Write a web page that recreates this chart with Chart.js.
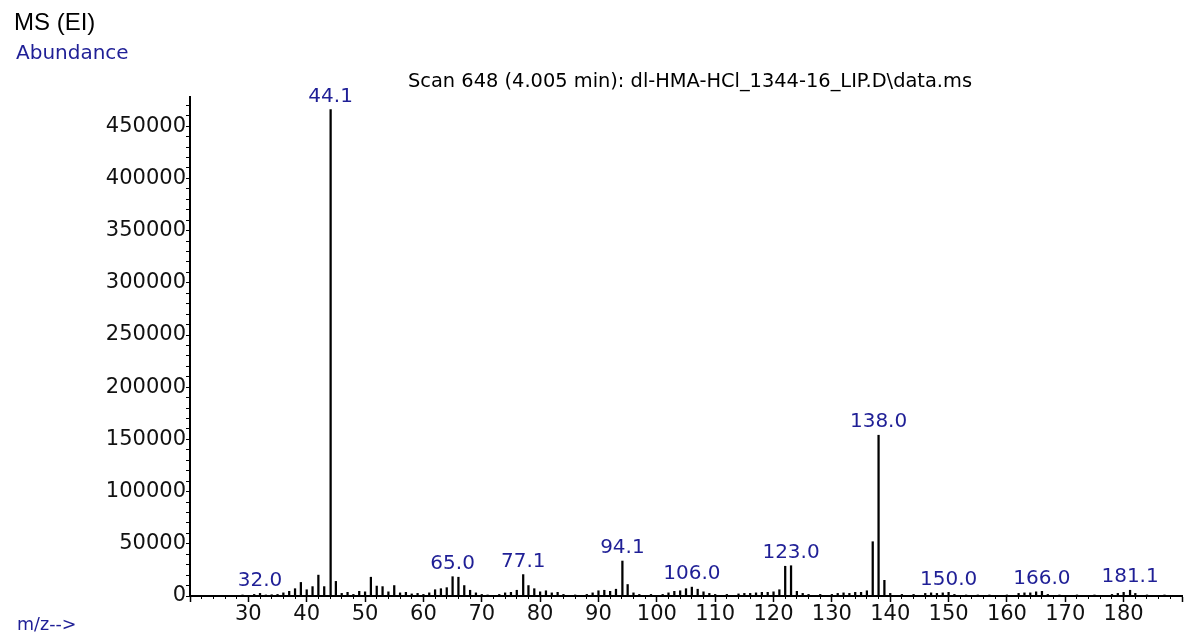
<!DOCTYPE html>
<html>
<head>
<meta charset="utf-8">
<script src="https://cdn.jsdelivr.net/npm/chart.js@4.4.1/dist/chart.umd.min.js"></script>
<style>
  body { margin: 0; background: #fff; }
  #wrap { width: 1184px; height: 635px; }
</style>
</head>
<body>
<div id="wrap"><canvas id="msChart" width="1184" height="635"></canvas></div>
<script>
// m/z values and abundances
const mzValues = [29, 31, 32, 33, 34, 35, 36, 37, 38, 39, 40, 41, 42, 43, 44.1, 45, 46, 47, 48, 49,
    50, 51, 52, 53, 54, 55, 56, 57, 58, 59, 60, 61, 62, 63, 64, 65, 66, 67, 68, 69,
    70, 71, 73, 74, 75, 76, 77.1, 78, 79, 80, 81, 82, 83, 84, 86, 88, 89, 90, 91, 92,
    93, 94.1, 95, 96, 97, 99, 101, 102, 103, 104, 105, 106, 107, 108, 109, 110, 112, 114, 115, 116,
    117, 118, 119, 120, 121, 122, 123, 124, 125, 126, 128, 130, 131, 132, 133, 134, 135, 136, 137, 138,
    139, 140, 142, 144, 146, 147, 148, 149, 150, 151, 153, 155, 157, 160, 162, 163, 164, 165, 166, 167,
    169, 172, 175, 178, 179, 180, 181.1, 182, 184, 187];
const abundance = [1000, 1500, 2500, 1000, 1200, 1500, 3000, 4500, 7000, 13000, 6000, 9000, 20000, 9000, 466000, 14000, 2500, 3500, 1500, 4500,
    4000, 18000, 9500, 9000, 4000, 10000, 3000, 3500, 2000, 2500, 1500, 3000, 6000, 7000, 8000, 18500, 18000, 10000, 5500, 3000,
    1500, 1000, 1500, 3000, 3500, 5500, 20500, 10000, 7000, 4000, 5000, 3000, 3500, 1500, 1000, 1500, 3000, 5000, 5500, 4500,
    6500, 33500, 11000, 3000, 1500, 1500, 1500, 3000, 4500, 5000, 7000, 8500, 6500, 4000, 2500, 1500, 1500, 2000, 2500, 2500,
    3000, 3500, 3500, 4000, 6000, 28500, 29000, 4500, 2500, 1500, 1500, 1500, 2500, 3000, 2500, 3500, 3500, 5000, 52000, 154000,
    15000, 2500, 1500, 1500, 2500, 3000, 2500, 3000, 3500, 1500, 1000, 1000, 1000, 1000, 2500, 3000, 3000, 4000, 4500, 1500,
    1000, 1000, 1000, 1500, 2500, 3500, 5500, 2500, 1000, 1000];

// labelled peaks
const peakLabels = ['32.0', '44.1', '65.0', '77.1', '94.1', '106.0', '123.0', '138.0', '150.0', '166.0', '181.1'];

const xMin = 20, xMax = 190;
const yMax = 478000;
const yTicks = [];
for (let v = 0; v <= 470000; v += 10000) yTicks.push(v);
const titleText = 'Scan 648 (4.005 min): dl-HMA-HCl_1344-16_LIP.D\\data.ms';

const blue = '#1f1f96';
const tickFont = { family: 'DejaVu Sans', size: 21 };

const points = mzValues.map(function(mz, i) { return { x: mz, y: abundance[i] }; });

// find abundance of the bar nearest to a labelled m/z
function peakHeight(mz) {
    var best = 0, dist = 1e9;
    mzValues.forEach(function(v, i) {
        var d = Math.abs(v - mz);
        if (d < dist) { dist = d; best = abundance[i]; }
    });
    return best;
}

const textPlugin = {
    id: 'msText',
    afterDraw: function(chart) {
        var ctx = chart.ctx;
        var xs = chart.scales.x, ys = chart.scales.y;
        ctx.save();
        ctx.textBaseline = 'alphabetic';
        ctx.textAlign = 'left';
        ctx.fillStyle = '#000';
        ctx.font = '24px "Liberation Sans"';
        ctx.fillText('MS (EI)', 14, 30);
        ctx.fillStyle = blue;
        ctx.font = '20px "DejaVu Sans"';
        ctx.fillText('Abundance', 16, 59);
        ctx.font = '17.5px "DejaVu Sans"';
        ctx.fillText('m/z-->', 17, 630);

        ctx.fillStyle = '#000';
        ctx.textAlign = 'center';
        ctx.font = '19.4px "DejaVu Sans"';
        ctx.fillText(titleText, (chart.chartArea.left + chart.chartArea.right) / 2 + 4, 87);

        ctx.fillStyle = blue;
        ctx.font = '20px "DejaVu Sans"';
        ctx.textBaseline = 'bottom';
        peakLabels.forEach(function(lbl) {
            var mz = parseFloat(lbl);
            var px = xs.getPixelForValue(mz);
            var py = ys.getPixelForValue(peakHeight(mz));
            ctx.fillText(lbl, px, py - 3);
        });
        ctx.restore();
    }
};

new Chart(document.getElementById('msChart'), {
    type: 'bar',
    data: {
        datasets: [{
            data: points,
            backgroundColor: '#000',
            borderWidth: 0,
            barThickness: 1.6,
            grouped: false
        }]
    },
    options: {
        responsive: false,
        animation: false,
        devicePixelRatio: 1,
        layout: { padding: { top: 97, right: 2, left: 0, bottom: 0 } },
        plugins: { legend: { display: false }, tooltip: { enabled: false }, title: { display: false } },
        scales: {
            x: {
                type: 'linear',
                min: xMin, max: xMax,
                offset: false,
                weight: 1,
                afterFit: function(s) { s.height = 39; },
                border: { display: true, color: '#000', width: 2 },
                grid: { offset: false, drawOnChartArea: false, drawTicks: true, tickLength: 6, color: '#000', tickWidth: 1.5 },
                ticks: {
                    stepSize: 10,
                    autoSkip: false,
                    maxRotation: 0,
                    color: '#111',
                    font: tickFont,
                    padding: 0,
                    callback: function(v) { return v >= 30 && v <= 180 ? String(v) : ''; }
                }
            },
            xm: {
                type: 'linear',
                position: 'bottom',
                min: xMin, max: xMax,
                offset: false,
                weight: 0,
                afterFit: function(s) { s.height = 0; },
                border: { display: false },
                grid: { offset: false, drawOnChartArea: false, drawTicks: true, tickLength: 3, color: '#000', tickWidth: 1 },
                ticks: { stepSize: 2, autoSkip: false, display: false }
            },
            y: {
                min: 0, max: yMax,
                afterFit: function(s) { s.width = 190; },
                afterBuildTicks: function(s) { s.ticks = yTicks.map(function(v) { return { value: v }; }); },
                border: { display: true, color: '#000', width: 2 },
                grid: { drawOnChartArea: false, drawTicks: true, tickLength: 4, color: '#000', tickWidth: 1 },
                ticks: {
                    autoSkip: false,
                    color: '#111',
                    font: tickFont,
                    padding: 0,
                    callback: function(v) { return v % 50000 === 0 ? String(v) : ''; }
                }
            }
        }
    },
    plugins: [textPlugin]
});
</script>
</body>
</html>
